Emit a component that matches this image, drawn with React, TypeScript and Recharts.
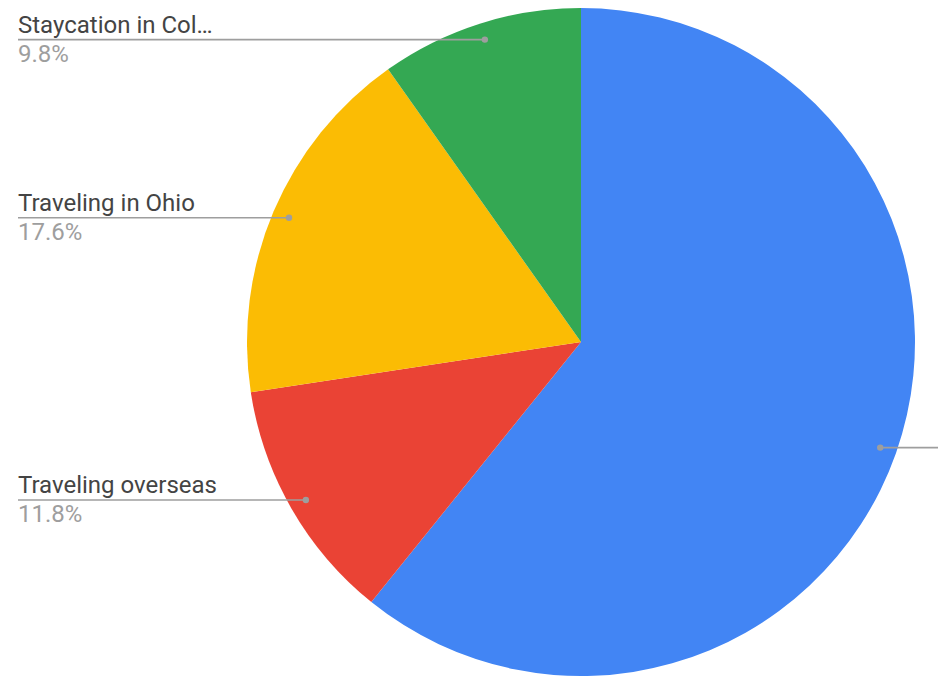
import React from 'react';
import { PieChart, Pie, Cell } from 'recharts';

const labels = ['Staycation at home', 'Traveling overseas', 'Traveling in Ohio', 'Staycation in Col…'];
const shares = [60.8, 11.8, 17.6, 9.8];
const colors = ['#4285F4', '#EA4335', '#FBBC04', '#34A853'];

const data = labels.map((name, i) => ({ name, value: shares[i] }));

const RAD = Math.PI / 180;

const renderLabel = (props: any) => {
    const { cx, cy, midAngle, outerRadius, percent, index, name } = props;
    const r = outerRadius * 0.95;
    const x = cx + r * Math.cos(-midAngle * RAD);
    const y = cy + r * Math.sin(-midAngle * RAD);
    const left = x < cx;
    const endX = left ? 18 : 938;
    return (
        <g key={`lbl-${index}`}>
            <line x1={x} y1={y} x2={endX} y2={y} stroke="#9e9e9e" strokeWidth={1.6} />
            <circle cx={x} cy={y} r={3.2} fill="#9e9e9e" />
            {left && (
                <>
                    <text x={18} y={y - 7} fill="#444" fontSize={24} fontFamily="Roboto">
                        {name}
                    </text>
                    <text x={18} y={y + 22} fill="#9e9e9e" fontSize={24} fontFamily="Roboto">
                        {(percent * 100).toFixed(1)}%
                    </text>
                </>
            )}
        </g>
    );
};

const App: React.FC = () => {
    return (
        <div style={{ position: 'absolute', left: 0, top: 0, width: 951, height: 681, background: '#fff' }}>
            <PieChart width={951} height={681} margin={{ top: 0, right: 0, bottom: 0, left: 0 }}>
                <Pie
                    data={data}
                    dataKey="value"
                    nameKey="name"
                    cx={581}
                    cy={342}
                    outerRadius={334}
                    startAngle={90}
                    endAngle={-270}
                    stroke="none"
                    label={renderLabel}
                    labelLine={false}
                    isAnimationActive={false}
                >
                    {data.map((d, i) => (
                        <Cell key={d.name} fill={colors[i]} />
                    ))}
                </Pie>
            </PieChart>
        </div>
    );
};

export default App;
